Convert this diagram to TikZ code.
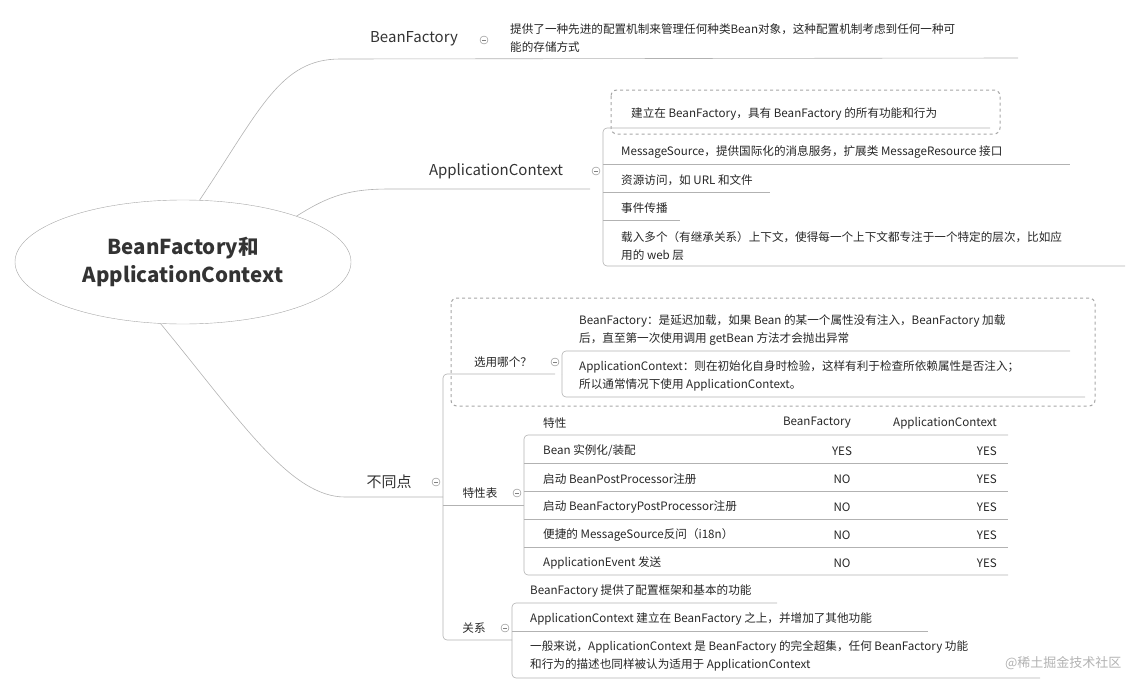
\documentclass[tikz,border=0pt]{standalone}
\usepackage{fontspec}
\setmainfont{Noto Sans CJK SC}
\usetikzlibrary{shapes.geometric}
\usetikzlibrary{positioning}
\tikzstyle{root} = [ellipse, draw=gray!70, minimum width=336, minimum height=124, align=center, font=\fontsize{20.5}{28}\selectfont\bfseries, text=black!80]
\tikzstyle{branch} = [anchor=center, font=\fontsize{15}{18}\selectfont, text=black!80]
\tikzstyle{small} = [anchor=center, font=\fontsize{11.6}{14}\selectfont, text=black!85]
\tikzstyle{leaf} = [anchor=west, inner sep=0pt, font=\fontsize{11.6}{17.5}\selectfont, text=black!85, align=left]
\tikzstyle{fold} = [circle, draw=gray, minimum size=8pt, inner sep=0pt, path picture={\draw[gray] ([xshift=-2pt]path picture bounding box.center) -- ([xshift=2pt]path picture bounding box.center);}]
\tikzstyle{edge} = [draw=gray!60, line width=0.6pt]
\tikzstyle{group} = [draw=gray!70, dashed, line width=1pt, rounded corners=6pt]
\begin{document}
\begin{tikzpicture}[x=1pt, y=-1pt]
\useasboundingbox (0,0) rectangle (1143,693);
% root
\node (root) [root] at (183,262) {BeanFactory和\\ApplicationContext};

% BeanFactory branch
\node (bf) [branch] at (414,39) {BeanFactory};
\node (bfFold) [fold] at (484,40) {};
\coordinate (bfLine) at (340,59);
\node (bfDesc) [leaf] at (510,38) {提供了一种先进的配置机制来管理任何种类Bean对象，这种配置机制考虑到任何一种可\\能的存储方式};
\draw [edge] (root.75) .. controls (260,110) and (280,59) .. (bfLine) -- (1018,58);

% ApplicationContext branch
\node (ac) [branch] at (496,171) {ApplicationContext};
\node (acFold) [fold] at (596,171) {};
\coordinate (acLine) at (390,189);
\draw [edge] (root.22) .. controls (330,195) and (350,189) .. (acLine) -- (590,189);
\draw [group] (611,90) rectangle (1000,134);
\node (ac1) [leaf] at (631,114) {建立在 BeanFactory，具有 BeanFactory 的所有功能和行为};
\node (ac2) [leaf] at (621,152) {MessageSource，提供国际化的消息服务，扩展类 MessageResource 接口};
\node (ac3) [leaf] at (621,180) {资源访问，如 URL 和文件};
\node (ac4) [leaf] at (621,208) {事件传播};
\node (ac5) [leaf] at (621,246) {载入多个（有继承关系）上下文，使得每一个上下文都专注于一个特定的层次，比如应\\用的 web 层};
\draw [edge, rounded corners=4pt] (990,128) -- (603,128) -- (603,266) -- (1125,266);
\draw [edge] (603,164) -- (1070,164);
\draw [edge] (603,192) -- (770,192);
\draw [edge] (603,220) -- (680,220);

% difference branch
\node (diff) [branch] at (389,482) {不同点};
\node (diffFold) [fold] at (436,482) {};
\coordinate (diffLine) at (345,497);
\draw [edge] (root.250) .. controls (240,420) and (290,497) .. (diffLine) -- (443,497);
\draw [edge, rounded corners=4pt] (555,374) -- (443,374) -- (443,640) -- (512,640);
\draw [edge] (443,505) -- (524,505);

% which one
\draw [group] (451,298) rectangle (1095,406);
\node (pick) [small] at (503,362) {选用哪个？};
\node (pickFold) [fold] at (555,362) {};
\node (pick1) [leaf] at (579,330) {BeanFactory：是延迟加载，如果 Bean 的某一个属性没有注入，BeanFactory 加载\\后，直至第一次使用调用 getBean 方法才会抛出异常};
\node (pick2) [leaf] at (579,376) {ApplicationContext：则在初始化自身时检验，这样有利于检查所依赖属性是否注入；\\所以通常情况下使用 ApplicationContext。};
\draw [edge, rounded corners=4pt] (562,374) -- (562,351) -- (1070,351);
\draw [edge, rounded corners=4pt] (562,374) -- (562,397) -- (1085,397);

% feature table
\node (tab) [small] at (480,493) {特性表};
\node (tabFold) [fold] at (517,493) {};
\draw [edge, rounded corners=4pt] (1008,435) -- (524,435) -- (524,575) -- (1008,575);
\node (th) [leaf] at (543,423) {特性};
\node (thBf) [leaf, anchor=center] at (817,423) {BeanFactory};
\node (thAc) [leaf, anchor=east] at (997,423) {ApplicationContext};
\foreach \y/\name/\bfv in {451/{Bean 实例化/装配}/YES, 479/启动 BeanPostProcessor注册/NO, 507/启动 BeanFactoryPostProcessor注册/NO, 535/便捷的 MessageSource反问（i18n）/NO, 563/ApplicationEvent 发送/NO} {
  \node (row\y) [leaf] at (543,\y) {\name};
  \node (rowBf\y) [leaf, anchor=center] at (842,\y) {\bfv};
  \node (rowAc\y) [leaf, anchor=east] at (997,\y) {YES};
}
\foreach \y in {463,491,519,547} \draw [edge] (524,\y) -- (1008,\y);

% relation
\node (rel) [small] at (474,628) {关系};
\node (relFold) [fold] at (505,628) {};
\draw [edge, rounded corners=4pt] (777,603) -- (512,603) -- (512,678) -- (1040,678);
\draw [edge] (512,631) -- (928,631);
\node (rel1) [leaf] at (530,591) {BeanFactory 提供了配置框架和基本的功能};
\node (rel2) [leaf] at (530,619) {ApplicationContext 建立在 BeanFactory 之上，并增加了其他功能};
\node (rel3) [leaf] at (530,656) {一般来说，ApplicationContext 是 BeanFactory 的完全超集，任何 BeanFactory 功能\\和行为的描述也同样被认为适用于 ApplicationContext};

\node (mark) [anchor=east, text=gray!60, font=\fontsize{13}{15}\selectfont] at (1125,663) {@稀土掘金技术社区};
\end{tikzpicture}
\end{document}
